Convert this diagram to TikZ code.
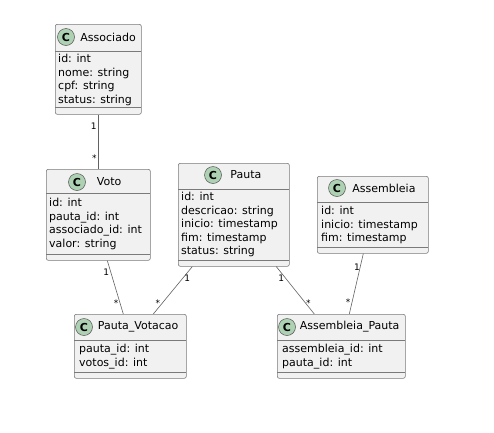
\documentclass[tikz,border=0pt]{standalone}
\usepackage{fontspec}
\setmainfont{DejaVu Sans}
\usepackage{tikz}
\usetikzlibrary{positioning}

\definecolor{boxfill}{HTML}{F1F1F1}
\definecolor{boxline}{HTML}{7A7A7A}
\definecolor{iconline}{HTML}{555555}
\definecolor{iconfill}{HTML}{ADD1B2}

\tikzset{
  classbox/.style={draw=boxline, fill=boxfill, line width=0.6pt, rounded corners=2pt,
    anchor=north west, inner sep=0pt},
  classicon/.style={circle, draw=iconline, fill=iconfill, line width=0.5pt,
    minimum size=17pt, inner sep=0pt, font=\fontsize{11}{11}\selectfont\bfseries},
  classname/.style={inner sep=0pt, font=\fontsize{11}{13}\selectfont},
  attrs/.style={anchor=north west, align=left, inner sep=0pt,
    font=\fontsize{11}{13.6}\selectfont},
  sepline/.style={draw=boxline, line width=0.6pt},
  assoc/.style={draw=boxline!80!black, line width=0.6pt},
  mult/.style={font=\fontsize{9}{9}\selectfont, inner sep=1.5pt}
}

\begin{document}
\begin{tikzpicture}[x=1pt, y=-1pt]
  \useasboundingbox[fill=white] (0,0) rectangle (494,432);

  % Associado
  \node[classbox, minimum width=86pt, minimum height=90pt] (associado) at (55,24) {};
  \draw[sepline] (55,51) -- (141,51);
  \draw[sepline] (55,107) -- (141,107);
  \node[classicon] (associado-c) at (66,37) {C};
  \node[classname, right=5.5pt of associado-c] (associado-t) {Associado};
  \node[attrs] (associado-a) at (58,54) {id: int\\nome: string\\cpf: string\\status: string};

  % Voto
  \node[classbox, minimum width=104pt, minimum height=91pt] (voto) at (46,169) {};
  \draw[sepline] (46,193) -- (150,193);
  \draw[sepline] (46,254) -- (150,254);
  \node[classicon] (voto-c) at (77,182) {C};
  \node[classname, right=11pt of voto-c] (voto-t) {Voto};
  \node[attrs] (voto-a) at (49,198) {id: int\\pauta\_id: int\\associado\_id: int\\valor: string};

  % Pauta
  \node[classbox, minimum width=111pt, minimum height=103pt] (pauta) at (178,163) {};
  \draw[sepline] (178,189) -- (289,189);
  \draw[sepline] (178,260) -- (289,260);
  \node[classicon] (pauta-c) at (213,175) {C};
  \node[classname, right=8.5pt of pauta-c] (pauta-t) {Pauta};
  \node[attrs] (pauta-a) at (181,192) {id: int\\descricao: string\\inicio: timestamp\\fim: timestamp\\status: string};

  % Assembleia
  \node[classbox, minimum width=111pt, minimum height=77pt] (assembleia) at (317,176) {};
  \draw[sepline] (317,202) -- (428,202);
  \draw[sepline] (317,247) -- (428,247);
  \node[classicon] (assembleia-c) at (337,188) {C};
  \node[classname, right=6.5pt of assembleia-c] (assembleia-t) {Assembleia};
  \node[attrs] (assembleia-a) at (321,206) {id: int\\inicio: timestamp\\fim: timestamp};

  % Pauta_Votacao
  \node[classbox, minimum width=112pt, minimum height=64pt] (pv) at (74,314) {};
  \draw[sepline] (74,340) -- (186,340);
  \draw[sepline] (74,372) -- (186,372);
  \node[classicon] (pv-c) at (84,327) {C};
  \node[classname, right=5pt of pv-c] (pv-t) {Pauta\_Votacao};
  \node[attrs] (pv-a) at (79,344) {pauta\_id: int\\votos\_id: int};

  % Assembleia_Pauta
  \node[classbox, minimum width=128pt, minimum height=64pt] (ap) at (277,314) {};
  \draw[sepline] (277,340) -- (405,340);
  \draw[sepline] (277,372) -- (405,372);
  \node[classicon] (ap-c) at (287,327) {C};
  \node[classname, right=4pt of ap-c] (ap-t) {Assembleia\_Pauta};
  \node[attrs] (ap-a) at (282,344) {assembleia\_id: int\\pauta\_id: int};

  % associations
  \draw[assoc] (associado.south) -- node[mult, pos=0.22, left] {1}
    node[mult, pos=0.8, left] {*} (voto.north);
  \draw[assoc] ([xshift=9pt]voto.south) -- node[mult, pos=0.22, left] {1}
    node[mult, pos=0.8, left] {*} ([xshift=-7pt]pv.north);
  \draw[assoc] ([xshift=-41.5pt]pauta.south) -- node[mult, pos=0.25, right] {1}
    node[mult, pos=0.78, left] {*} ([xshift=23pt]pv.north);
  \draw[assoc] ([xshift=42.5pt]pauta.south) -- node[mult, pos=0.25, left] {1}
    node[mult, pos=0.78, right, inner sep=0pt] {*} ([xshift=-27pt]ap.north);
  \draw[assoc] ([xshift=-9.5pt]assembleia.south) -- node[mult, pos=0.22, left, inner sep=0pt] {1}
    node[mult, pos=0.8, left] {*} ([xshift=8pt]ap.north);
\end{tikzpicture}
\end{document}
